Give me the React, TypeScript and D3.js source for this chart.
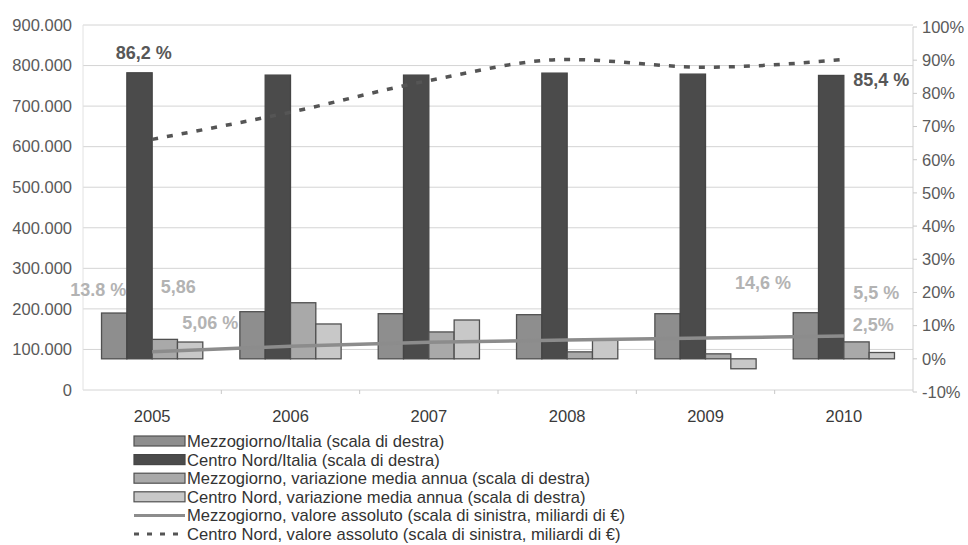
import React from "react";
import * as d3 from "d3";

const years = ["2005", "2006", "2007", "2008", "2009", "2010"];
const mezzItalia = [13.8, 14.2, 13.6, 13.3, 13.6, 13.9];
const centroNordItalia = [86.2, 85.5, 85.5, 86.1, 85.8, 85.4];
const mezzVar = [5.86, 16.9, 8.1, 2.1, 1.5, 5.1];
const cnVar = [5.06, 10.5, 11.7, 6.0, -3.0, 1.9];
const mezzAbs = [94000, 108000, 118000, 123000, 128000, 133000];
const cnAbs = [618000, 685000, 763000, 815000, 796000, 815000];
const leftTicks = [0, 100000, 200000, 300000, 400000, 500000, 600000, 700000, 800000, 900000];
const rightTicks = [-10, 0, 10, 20, 30, 40, 50, 60, 70, 80, 90, 100];
const legendLabels = [
  "Mezzogiorno/Italia (scala di destra)",
  "Centro Nord/Italia (scala di destra)",
  "Mezzogiorno, variazione media annua (scala di destra)",
  "Centro Nord, variazione media annua (scala di destra)",
  "Mezzogiorno, valore assoluto (scala di sinistra, miliardi di €)",
  "Centro Nord, valore assoluto (scala di sinistra, miliardi di €)",
];
const annotations = [
  { text: "86,2 %", year: "2005", dx: -8.5, v: 90.4, dark: true },
  { text: "13.8 %", year: "2005", dx: -54, v: 18.9, dark: false },
  { text: "5,86", year: "2005", dx: 26, v: 19.8, dark: false },
  { text: "5,06 %", year: "2005", dx: 58, v: 9.0, dark: false },
  { text: "14,6 %", year: "2009", dx: 57.5, v: 21.0, dark: false },
  { text: "5,5 %", year: "2010", dx: 32.5, v: 18.0, dark: false },
  { text: "2,5%", year: "2010", dx: 29.5, v: 8.4, dark: false },
  { text: "85,4 %", year: "2010", dx: 37.5, v: 82.2, dark: true },
];

const W = 968;
const H = 545;
const plotL = 83;
const plotR = 913;
const font = "'Liberation Sans', Arial, sans-serif";

const barSeries = [
  { values: mezzItalia, fill: "#8e8e8e", stroke: "#505050" },
  { values: centroNordItalia, fill: "#4b4b4b", stroke: "#454545" },
  { values: mezzVar, fill: "#a9a9a9", stroke: "#505050" },
  { values: cnVar, fill: "#c8c8c8", stroke: "#505050" },
];

export default function App() {
  const x0 = d3.scaleBand<string>().domain(years).range([plotL, plotR]).paddingInner(0.268).paddingOuter(0.134);
  const x1 = d3.scaleBand<number>().domain([0, 1, 2, 3]).range([0, x0.bandwidth()]);
  const yL = d3.scaleLinear().domain([0, 900000]).range([390, 25]);
  const yR = d3.scaleLinear().domain([-10, 100]).range([392, 27]);
  const cx = (y: string) => (x0(y) as number) + x0.bandwidth() / 2;
  const fmt = (v: number) => (v === 0 ? "0" : d3.format(",")(v).replace(/,/g, "."));

  const lineGen = d3
    .line<number>()
    .x((_, i) => cx(years[i]))
    .y((d) => yL(d))
    .curve(d3.curveMonotoneX);

  const legendY0 = 441;
  const legendStep = 18.6;

  return (
    <div style={{ position: "absolute", left: 0, top: 0 }}>
      <svg width={W} height={H} style={{ display: "block", background: "#fff" }} fontFamily={font}>
        {/* gridlines */}
        {leftTicks.map((t) => (
          <line key={"g" + t} x1={plotL} x2={plotR} y1={yL(t)} y2={yL(t)} stroke="#d4d4d4" strokeWidth={1} />
        ))}
        {/* axes */}
        <line x1={plotL} x2={plotL} y1={yL(900000)} y2={yL(0)} stroke="#e2e2e2" />
        <line x1={plotR} x2={plotR} y1={yR(100)} y2={yR(-10)} stroke="#d0d0d0" />
        {rightTicks.map((t) => (
          <line key={"rt" + t} x1={plotR} x2={plotR + 4} y1={yR(t)} y2={yR(t)} stroke="#c8c8c8" />
        ))}
        {years.map((y, i) =>
          i > 0 ? (
            <line key={"ct" + y} x1={x0(y)! - (x0.step() - x0.bandwidth()) / 2} x2={x0(y)! - (x0.step() - x0.bandwidth()) / 2} y1={yL(0)} y2={yL(0) + 4} stroke="#c8c8c8" />
          ) : null
        )}
        {/* left tick labels */}
        {leftTicks.map((t) => (
          <text key={"lt" + t} x={72} y={yL(t)} dy="0.35em" textAnchor="end" fontSize={16.5} fill="#5a5a5a">
            {fmt(t)}
          </text>
        ))}
        {/* right tick labels */}
        {rightTicks.map((t) => (
          <text key={"rl" + t} x={922} y={yR(t)} dy="0.35em" textAnchor="start" fontSize={16.5} fill="#5a5a5a">
            {t + "%"}
          </text>
        ))}
        {/* year labels */}
        {years.map((y) => (
          <text key={"yl" + y} x={cx(y)} y={yL(0) + 32} textAnchor="middle" fontSize={16.5} fill="#3a3a3a">
            {y}
          </text>
        ))}
        {/* bars */}
        {years.map((y, i) => (
          <g key={"bg" + y} transform={`translate(${x0(y)},0)`}>
            {barSeries.map((s, j) => {
              const v = s.values[i];
              const top = yR(Math.max(0, v));
              const bot = yR(Math.min(0, v));
              return (
                <rect
                  key={j}
                  x={x1(j)}
                  y={top}
                  width={x1.bandwidth()}
                  height={bot - top}
                  fill={s.fill}
                  stroke={s.stroke}
                  strokeWidth={1.3}
                />
              );
            })}
          </g>
        ))}
        {/* lines */}
        <path d={lineGen(mezzAbs) || ""} fill="none" stroke="#8c8c8c" strokeWidth={3.5} />
        <path d={lineGen(cnAbs) || ""} fill="none" stroke="#555" strokeWidth={3.5} strokeDasharray="6,9" />
        {/* annotations */}
        {annotations.map((a) => (
          <text
            key={a.text}
            x={cx(a.year) + a.dx}
            y={yR(a.v)}
            textAnchor="middle"
            fontSize={18}
            fontWeight="bold"
            fill={a.dark ? "#575757" : "#b3b3b3"}
          >
            {a.text}
          </text>
        ))}
        {/* legend */}
        {legendLabels.map((lab, i) => {
          const yy = legendY0 + i * legendStep;
          let sw: React.ReactNode;
          if (i < 4) {
            const s = barSeries[i];
            sw = <rect x={134} y={yy - 5} width={51} height={10} fill={s.fill} stroke={s.stroke} strokeWidth={1.2} />;
          } else if (i === 4) {
            sw = <line x1={134} x2={185} y1={yy} y2={yy} stroke="#8c8c8c" strokeWidth={3} />;
          } else {
            sw = <line x1={134} x2={185} y1={yy} y2={yy} stroke="#555" strokeWidth={3} strokeDasharray="5,8" />;
          }
          return (
            <g key={"lg" + i}>
              {sw}
              <text x={187} y={yy} dy="0.36em" fontSize={16.6} fill="#333">
                {lab}
              </text>
            </g>
          );
        })}
      </svg>
    </div>
  );
}
